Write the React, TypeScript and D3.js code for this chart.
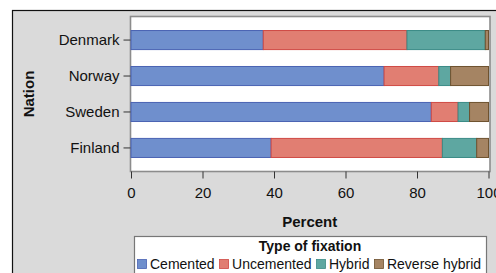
import React, { useEffect, useRef } from "react";
import * as d3 from "d3";

const nations = ["Denmark", "Norway", "Sweden", "Finland"];
const fixations = ["Cemented", "Uncemented", "Hybrid", "Reverse hybrid"];
// percent per nation, in fixation order
const cemented = [37.0, 70.8, 84.0, 39.2];
const uncemented = [40.2, 15.3, 7.5, 47.9];
const hybrid = [21.9, 3.3, 3.2, 9.6];
const reverseHybrid = [0.9, 10.6, 5.3, 3.3];
const xTicks = [0, 20, 40, 60, 80, 100];

const fills = ["#6f8fcd", "#e17e72", "#5ea7a1", "#a58463"];
const strokes = ["#4a63b3", "#cf4a45", "#3b8b86", "#6e522f"];

export default function App() {
  const ref = useRef<SVGSVGElement>(null);

  useEffect(() => {
    const svg = d3.select(ref.current);
    svg.selectAll("*").remove();

    const width = 496;
    const height = 273;
    const font = "'Liberation Sans', Arial, sans-serif";
    const plot = { left: 130.5, right: 490, top: 16.5, bottom: 171.5 };

    // background + frame
    svg.append("rect").attr("width", width).attr("height", height).attr("fill", "#fff");
    svg.append("rect")
      .attr("x", 12.5).attr("y", 10.5)
      .attr("width", width).attr("height", height)
      .attr("fill", "#dadada").attr("stroke", "#111").attr("stroke-width", 1.2);

    const x = d3.scaleLinear().domain([0, 100]).range([131, 488.5]);
    const y = d3.scaleBand<string>()
      .domain(nations)
      .range([plot.top, plot.bottom])
      .paddingInner(0.47)
      .paddingOuter(0.39);

    svg.append("rect")
      .attr("x", plot.left).attr("y", plot.top)
      .attr("width", plot.right - plot.left).attr("height", plot.bottom - plot.top)
      .attr("fill", "#fff").attr("stroke", "#8c8c8c").attr("stroke-width", 1.6);

    const table = nations.map((n, i) => ({
      nation: n,
      Cemented: cemented[i],
      Uncemented: uncemented[i],
      Hybrid: hybrid[i],
      "Reverse hybrid": reverseHybrid[i],
    }));
    const stacked = d3.stack<any>().keys(fixations)(table);

    stacked.forEach((layer, k) => {
      svg.append("g").selectAll("rect")
        .data(layer)
        .enter()
        .append("rect")
        .attr("x", d => x(d[0]))
        .attr("y", d => y(d.data.nation)!)
        .attr("width", d => Math.max(0, x(d[1]) - x(d[0])))
        .attr("height", y.bandwidth())
        .attr("fill", fills[k])
        .attr("stroke", strokes[k])
        .attr("stroke-width", 1);
    });

    // y axis
    const yAxis = svg.append("g")
      .attr("transform", `translate(${plot.left},0)`)
      .call(d3.axisLeft(y).tickSize(7).tickPadding(4));
    yAxis.select(".domain").remove();
    yAxis.selectAll("line").attr("stroke", "#333");
    yAxis.selectAll("text").attr("font-family", font).attr("font-size", 15).attr("fill", "#111");

    // x axis
    const xAxis = svg.append("g")
      .attr("transform", `translate(0,${plot.bottom})`)
      .call(d3.axisBottom(x).tickValues(xTicks).tickSize(7).tickPadding(9));
    xAxis.select(".domain").remove();
    xAxis.selectAll("line").attr("stroke", "#333");
    xAxis.selectAll("text").attr("font-family", font).attr("font-size", 15).attr("fill", "#111");

    // axis titles
    svg.append("text")
      .attr("x", (131 + 488.5) / 2).attr("y", 227)
      .attr("text-anchor", "middle")
      .attr("font-family", font).attr("font-size", 15).attr("font-weight", "bold")
      .attr("fill", "#111")
      .text("Percent");

    svg.append("text")
      .attr("transform", `translate(34,${(plot.top + plot.bottom) / 2}) rotate(-90)`)
      .attr("text-anchor", "middle")
      .attr("font-family", font).attr("font-size", 15).attr("font-weight", "bold")
      .attr("fill", "#111")
      .text("Nation");

    // legend
    svg.append("rect")
      .attr("x", 134.5).attr("y", 236.5)
      .attr("width", 352).attr("height", 50)
      .attr("fill", "#fff").attr("stroke", "#777").attr("stroke-width", 1.2);

    svg.append("text")
      .attr("x", 310).attr("y", 251)
      .attr("text-anchor", "middle")
      .attr("font-family", font).attr("font-size", 14).attr("font-weight", "bold")
      .attr("fill", "#111")
      .text("Type of fixation");

    let lx = 137.5;
    fixations.forEach((f, k) => {
      svg.append("rect")
        .attr("x", lx).attr("y", 259.5)
        .attr("width", 9).attr("height", 9)
        .attr("fill", fills[k]).attr("stroke", strokes[k]).attr("stroke-width", 0.8);
      const t = svg.append("text")
        .attr("x", lx + 12.5).attr("y", 269)
        .attr("font-family", font).attr("font-size", 14)
        .attr("fill", "#111")
        .text(f);
      const w = (t.node() as SVGTextElement).getComputedTextLength();
      lx += 12.5 + w + 5;
    });
  }, []);

  return (
    <svg
      ref={ref}
      width={496}
      height={273}
      style={{ position: "absolute", left: 0, top: 0 }}
    />
  );
}
